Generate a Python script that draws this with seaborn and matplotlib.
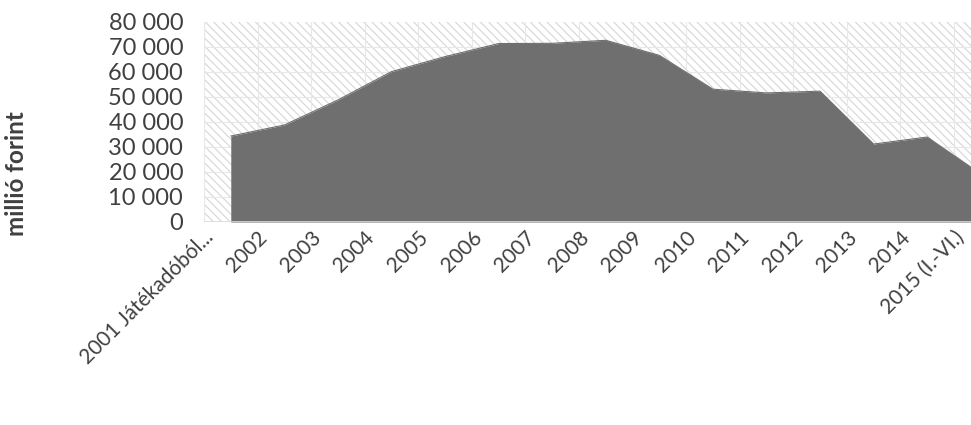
import matplotlib
matplotlib.use("Agg")
import matplotlib.pyplot as plt
import matplotlib.transforms as mtransforms
from matplotlib.patches import Rectangle
from matplotlib.ticker import FuncFormatter, FixedLocator
import seaborn as sns
import pandas as pd

# Annual revenue, million HUF
categories = ["2001 Játékadóból...", "2002", "2003", "2004", "2005", "2006", "2007",
              "2008", "2009", "2010", "2011", "2012", "2013", "2014", "2015 (I.-VI.)"]
values = [34300, 38700, 48700, 60000, 66000, 71200, 71300,
          72500, 66500, 53000, 51500, 52200, 31100, 33900, 19200]
y_ticks = list(range(0, 80001, 10000))

sns.set_theme(style="white")
plt.rcParams['font.family'] = ['Lato', 'DejaVu Sans']
plt.rcParams['hatch.linewidth'] = 0.8

TEXT = '#404040'
AREA = '#6f6f6f'

fig = plt.figure(figsize=(9.71, 4.25), dpi=100)
W, H = 971, 425
left, right, top, bottom = 204, 1007.5, 21.5, 222
ax = fig.add_axes([left / W, 1 - bottom / H, (right - left) / W, (bottom - top) / H])

df = pd.DataFrame({"pos": list(range(len(categories))), "value": values})

# hatched plot-area background
ax.add_patch(Rectangle((0, 0), 1, 1, transform=ax.transAxes, facecolor='white',
                       edgecolor='#d6d6d6', hatch='\\\\\\\\', linewidth=0, zorder=0))

ax.fill_between(df["pos"], df["value"], color=AREA, linewidth=0, zorder=2)
sns.lineplot(data=df, x="pos", y="value", color=AREA, linewidth=0.8, ax=ax, zorder=3)

ax.set_xlim(-0.5, len(categories) - 0.5)
ax.set_ylim(0, 80000)
ax.yaxis.set_major_locator(FixedLocator(y_ticks))
ax.yaxis.set_major_formatter(FuncFormatter(lambda v, p: f"{int(v):,}".replace(",", " ")))

ax.set_xticks(df["pos"])
ax.set_xticks([p - 0.5 for p in range(len(categories) + 1)], minor=True)
ax.tick_params(axis='x', which='both', length=0, pad=9)
ax.tick_params(axis='y', length=0, pad=15, labelsize=17, labelcolor=TEXT)

ax.set_xticklabels(categories, rotation=45, ha='right', va='center',
                   rotation_mode='anchor', fontsize=15, color=TEXT)
# pull the slanted labels left so each ends just before its tick
shift = mtransforms.ScaledTranslation(-20 / 100, 0, fig.dpi_scale_trans)
for lbl in ax.get_xticklabels():
    lbl.set_transform(lbl.get_transform() + shift)

ax.set_axisbelow(True)
ax.grid(axis='y', which='major', color='#e8e8e8', linewidth=0.8, zorder=1)
ax.grid(axis='x', which='minor', color='#e8e8e8', linewidth=0.8, zorder=1)
ax.grid(axis='x', which='major', visible=False)

for s in ax.spines.values():
    s.set_visible(False)
ax.axhline(0, color='#d9d9d9', linewidth=1.2, zorder=4)

ax.set_xlabel("")
ax.set_ylabel("")
fig.text(17 / W, 1 - 174 / H, "millió forint", rotation=90, fontweight='bold',
         fontsize=17.5, color=TEXT, ha='center', va='center')

fig.savefig("out.png", dpi=100)
